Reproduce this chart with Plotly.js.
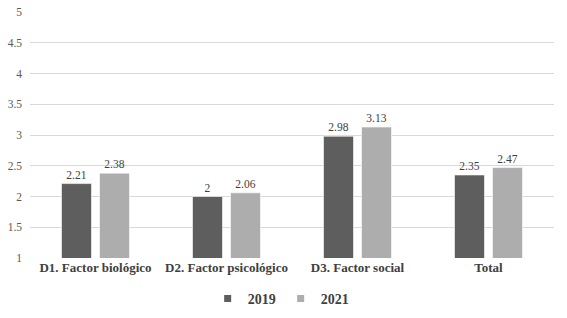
<!DOCTYPE html>
<html><head><meta charset="utf-8">
<script src="https://cdn.plot.ly/plotly-3.0.1.min.js"></script>
<style>html,body{margin:0;padding:0;background:#fff;}#chart{width:567px;height:318px;}</style>
</head><body><div id="chart"></div>
<script>
const categories = ["D1. Factor biológico", "D2. Factor psicológico", "D3. Factor social", "Total"];
const values2019 = [2.21, 2, 2.98, 2.35];
const values2021 = [2.38, 2.06, 3.13, 2.47];
const seriesNames = ["2019", "2021"];
const yTicks = [1, 1.5, 2, 2.5, 3, 3.5, 4, 4.5, 5];
const yTickLabels = ["1", "1.5", "2", "2.5", "3", "3.5", "4", "4.5", "5"];

const serif = "Times New Roman";
const colors = ["#5e5e5e", "#adadad"];
const mk = (name, y, color) => ({
  type: "bar", name: name, x: categories, y: y,
  marker: {color: color, line: {color: "#ffffff", width: 0.6}},
  text: y.map(v => String(v)), textposition: "outside", cliponaxis: false,
  textfont: {family: serif, size: 11.5, color: "#404040"},
  showlegend: false, hoverinfo: "skip"
});
const legendItem = (name, color) => ({
  type: "scatter", mode: "markers", name: name, x: [null], y: [null],
  marker: {symbol: "square", size: 7, color: color}, showlegend: true, hoverinfo: "skip"
});
const data = [
  mk(seriesNames[0], values2019, colors[0]),
  mk(seriesNames[1], values2021, colors[1]),
  legendItem(seriesNames[0], colors[0]),
  legendItem(seriesNames[1], colors[1])
];
const layout = {
  width: 567, height: 318,
  margin: {l: 30, r: 13, t: 12, b: 60, autoexpand: false},
  paper_bgcolor: "#fff", plot_bgcolor: "#fff",
  barmode: "group", bargap: 0.42, bargroupgap: 0.21,
  showlegend: true,
  legend: {orientation: "h", x: 0.495, xanchor: "center", xref: "container",
           y: 0.01, yanchor: "bottom", yref: "container",
           font: {family: serif, size: 14, color: "#404040", weight: "bold"},
           itemwidth: 30, traceorder: "normal", tracegroupgap: 0},
  xaxis: {tickfont: {family: serif, size: 13, color: "#404040", weight: "bold"},
          showline: false, ticks: "", showgrid: false},
  yaxis: {range: [1, 5], tickvals: yTicks, ticktext: yTickLabels,
          tickfont: {family: serif, size: 11.5, color: "#595959"},
          showgrid: true, gridcolor: "#d9d9d9", gridwidth: 1,
          zeroline: false, showline: false, ticks: "", ticklabelstandoff: 7}
};
Plotly.newPlot("chart", data, layout, {displayModeBar: false, staticPlot: true});
</script></body></html>
